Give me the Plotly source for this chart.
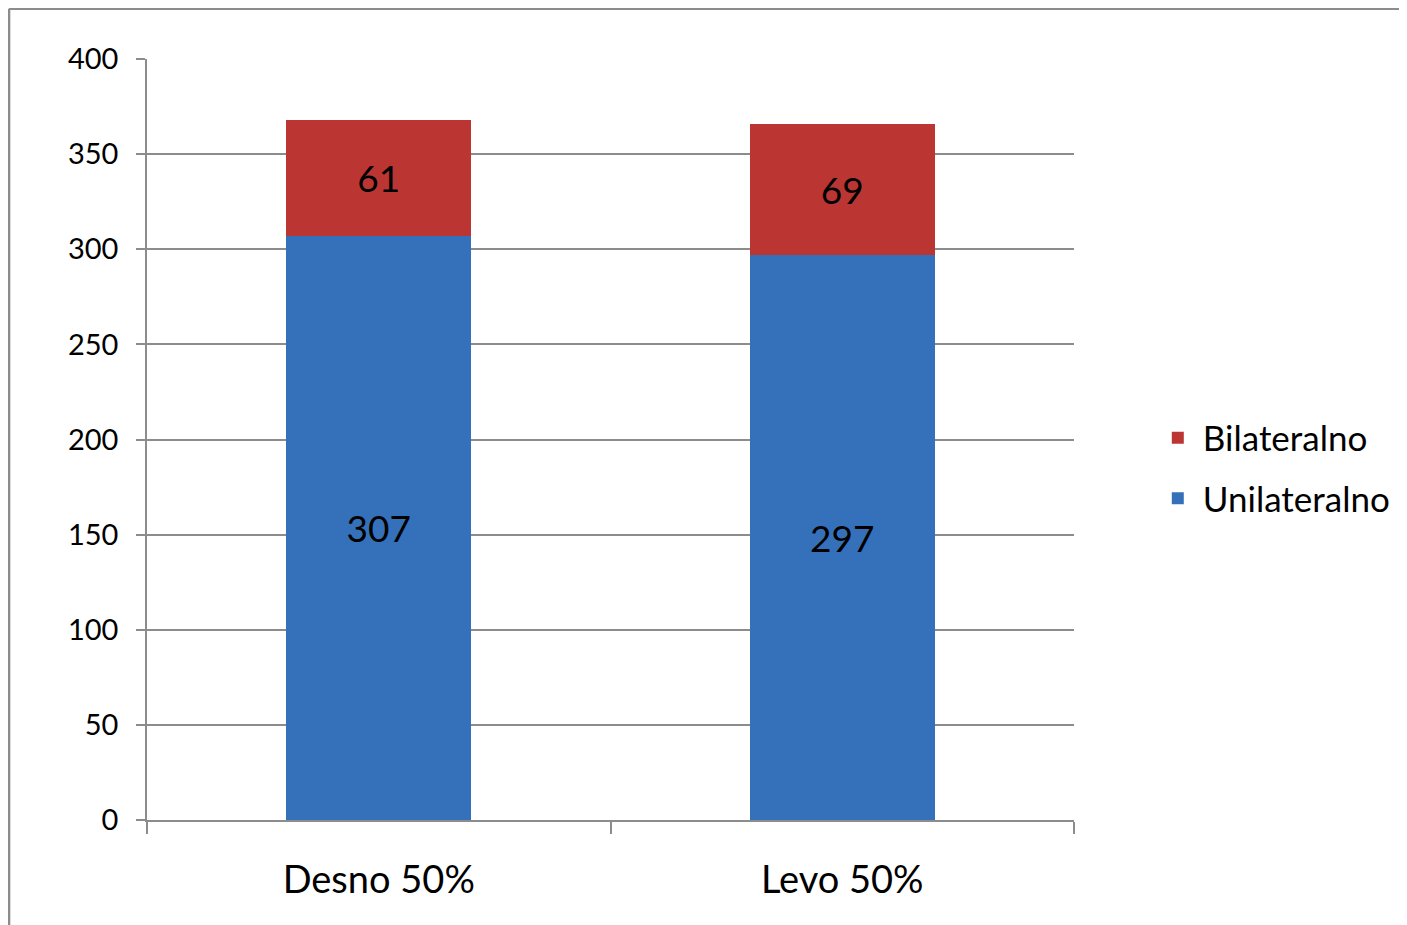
import plotly.graph_objects as go

categories = ["Desno 50%", "Levo 50%"]
unilateralno = [307, 297]
bilateralno = [61, 69]
y_ticks = [0, 50, 100, 150, 200, 250, 300, 350, 400]

FONT = "Lato, 'Open Sans', sans-serif"

fig = go.Figure()
fig.add_trace(go.Bar(
    name="Unilateralno", x=categories, y=unilateralno, legendgroup="u",
    legendrank=2,
    marker=dict(color="#3571ba", line=dict(width=0)),
    text=unilateralno, textposition="inside", insidetextanchor="middle",
    textfont=dict(size=37, color="black", family=FONT),
))
fig.add_trace(go.Bar(
    name="Bilateralno", x=categories, y=bilateralno, legendgroup="b",
    legendrank=1,
    marker=dict(color="#bb3633", line=dict(width=0)),
    text=bilateralno, textposition="inside", insidetextanchor="middle",
    textfont=dict(size=37, color="black", family=FONT),
))

fig.update_layout(
    barmode="stack",
    bargap=0.6,
    width=1407, height=925,
    margin=dict(l=139, r=341, t=51, b=113),
    paper_bgcolor="white", plot_bgcolor="white",
    font=dict(family=FONT, color="black"),
    uniformtext=dict(mode="show", minsize=10),
    legend=dict(
        x=1.085, y=0.4626, xanchor="left", yanchor="middle",
        traceorder="grouped", font=dict(size=35, family=FONT),
        itemsizing="constant", tracegroupgap=12, itemwidth=40,
    ),
    xaxis=dict(
        showline=True, linecolor="#8c8c8c", linewidth=1.5,
        ticks="outside", tickson="boundaries", ticklen=12,
        tickcolor="#8c8c8c", tickwidth=1.5, ticklabelstandoff=26,
        tickfont=dict(size=38, family=FONT), showgrid=False,
    ),
    yaxis=dict(
        range=[0, 400], tickvals=y_ticks,
        showline=True, linecolor="#8c8c8c", linewidth=1.5,
        ticks="outside", ticklen=9, tickcolor="#8c8c8c", tickwidth=1.5,
        ticklabelstandoff=12,
        showgrid=True, gridcolor="#8c8c8c", gridwidth=1.5,
        tickfont=dict(size=29, family=FONT), zeroline=False,
    ),
)

# outer chart border (top and left edges visible in the reference)
fig.add_shape(type="line", xref="paper", yref="paper",
              x0=-0.1488, x1=-0.1488, y0=-0.2, y1=1.066,
              line=dict(color="#8c8c8c", width=2.5))
fig.add_shape(type="line", xref="paper", yref="paper",
              x0=-0.1488, x1=1.5, y0=1.066, y1=1.066,
              line=dict(color="#8c8c8c", width=2.5))

fig.write_html("out.html")
